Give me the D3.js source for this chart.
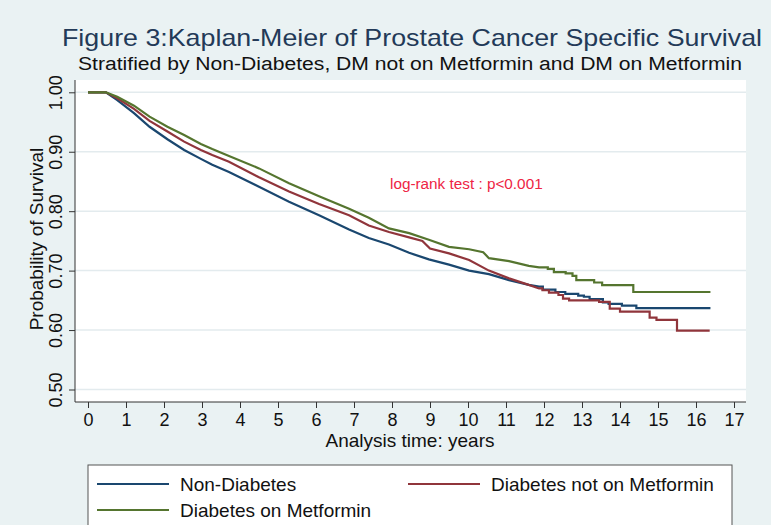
<!DOCTYPE html>
<html>
<head>
<meta charset="utf-8">
<script src="https://cdn.jsdelivr.net/npm/d3@7"></script>
<style>
  html, body { margin: 0; padding: 0; background: #eaf2f3; }
  svg { display: block; font-family: "Liberation Sans", Arial, sans-serif; }
</style>
</head>
<body>
<svg id="chart" width="771" height="525"></svg>
<script>
// Kaplan-Meier survival estimates by group.
// "early" = readings along the dense part of each curve (drawn as a polyline),
// "tail"  = individual step events [time, survival after the step].
const nonDiabetesEarly = [
  [0, 1], [0.47, 1], [0.77, 0.987], [1.21, 0.965], [1.62, 0.942], [2.09, 0.921],
  [2.53, 0.903], [2.97, 0.888], [3.27, 0.878], [3.71, 0.866], [4.5, 0.841],
  [5.29, 0.816], [6.08, 0.793], [6.87, 0.769], [7.39, 0.755], [7.92, 0.744],
  [8.45, 0.730], [8.97, 0.719], [9.5, 0.710], [10.03, 0.700], [10.55, 0.694],
  [11.08, 0.684], [11.6, 0.676], [11.87, 0.673]
];
const nonDiabetesTail = [
  [11.97, 0.668], [12.3, 0.664], [12.56, 0.661], [12.9, 0.658], [13.05, 0.656],
  [13.2, 0.652], [13.55, 0.6465], [13.7, 0.644], [14.05, 0.641], [14.43, 0.637],
  [16.38, 0.637]
];

const dmNoMetEarly = [
  [0, 1], [0.47, 1], [0.77, 0.990], [1.21, 0.972], [1.62, 0.952], [2.09, 0.934],
  [2.53, 0.917], [2.97, 0.903], [3.27, 0.8945], [3.71, 0.883], [4.5, 0.857],
  [5.29, 0.833], [6.08, 0.812], [6.87, 0.793], [7.39, 0.776], [7.92, 0.765],
  [8.45, 0.756], [8.8, 0.750], [9.0, 0.737], [9.5, 0.729], [10.03, 0.718],
  [10.55, 0.700], [11.08, 0.687], [11.6, 0.676], [11.87, 0.670]
];
const dmNoMetTail = [
  [11.96, 0.667], [12.13, 0.663], [12.38, 0.659], [12.5, 0.653], [12.66, 0.650],
  [13.45, 0.6475], [13.73, 0.636], [14.0, 0.631], [14.78, 0.621], [14.96, 0.617],
  [15.5, 0.599], [16.36, 0.599]
];

const dmMetEarly = [
  [0, 1], [0.47, 1], [0.77, 0.9926], [1.21, 0.9775], [1.62, 0.959], [2.09, 0.942],
  [2.53, 0.928], [2.97, 0.913], [3.27, 0.9045], [3.71, 0.893], [4.5, 0.872],
  [5.29, 0.847], [6.08, 0.825], [6.87, 0.804], [7.39, 0.789], [7.92, 0.771],
  [8.45, 0.763], [8.97, 0.752], [9.5, 0.740], [10.03, 0.736], [10.4, 0.731],
  [10.55, 0.721], [11.08, 0.716], [11.6, 0.708], [11.87, 0.7055]
];
const dmMetTail = [
  [12.1, 0.703], [12.26, 0.6975], [12.57, 0.6953], [12.75, 0.691], [12.85, 0.684],
  [13.32, 0.680], [13.53, 0.6756], [14.35, 0.664], [16.38, 0.664]
];

const groups = ["Non-Diabetes", "Diabetes not on Metformin", "Diabetes on Metformin"];
const groupColors = ["#1a476f", "#90353b", "#55752f"];
const xTicks = d3.range(0, 18);
const yTicks = [0.5, 0.6, 0.7, 0.8, 0.9, 1.0];
const yTickLabels = ["0.50", "0.60", "0.70", "0.80", "0.90", "1.00"];

const titleText = "Figure 3:Kaplan-Meier of Prostate Cancer Specific Survival";
const subtitleText = "Stratified by Non-Diabetes, DM not on Metformin and DM on Metformin";
const noteText = "log-rank test : p<0.001";

const svg = d3.select("#chart");
const W = 771, H = 525;
const plot = { left: 75, right: 746, top: 80, bottom: 402 };
const FONT = "Liberation Sans, Arial, sans-serif";

const x = d3.scaleLinear().domain([0, 17]).range([88, 734]);
const y = d3.scaleLinear().domain([0.5, 1.0]).range([389.5, 92.3]);

// background and plot region
svg.append("rect").attr("width", W).attr("height", H).attr("fill", "#eaf2f3");
svg.append("rect")
  .attr("x", plot.left).attr("y", plot.top)
  .attr("width", plot.right - plot.left).attr("height", plot.bottom - plot.top)
  .attr("fill", "#ffffff");

// horizontal grid
svg.append("g").selectAll("line").data(yTicks).join("line")
  .attr("x1", plot.left).attr("x2", plot.right)
  .attr("y1", d => y(d)).attr("y2", d => y(d))
  .attr("stroke", "#e3ebee").attr("stroke-width", 1.5);

// titles
svg.append("text").attr("x", 412).attr("y", 46)
  .attr("text-anchor", "middle").attr("font-size", 24).attr("fill", "#233a58")
  .attr("textLength", 700).attr("lengthAdjust", "spacingAndGlyphs")
  .text(titleText);
svg.append("text").attr("x", 410).attr("y", 70)
  .attr("text-anchor", "middle").attr("font-size", 18).attr("fill", "#111")
  .attr("textLength", 664).attr("lengthAdjust", "spacingAndGlyphs")
  .text(subtitleText);

// y axis
const yAxis = d3.axisLeft(y).tickValues(yTicks)
  .tickFormat((d, i) => yTickLabels[i]).tickSize(6).tickPadding(4);
const gy = svg.append("g").attr("transform", `translate(${plot.left},0)`).call(yAxis);
gy.select(".domain").attr("d", `M0,${plot.top}V${plot.bottom}`).attr("stroke", "#333");
gy.selectAll(".tick line").attr("stroke", "#333");
gy.selectAll(".tick text")
  .attr("font-size", 18).attr("fill", "#111").attr("font-family", FONT)
  .attr("text-anchor", "middle")
  .attr("transform", "translate(-19,0) rotate(-90)")
  .attr("x", 0).attr("dy", "0.36em");

// x axis
const xAxis = d3.axisBottom(x).tickValues(xTicks).tickSize(6).tickPadding(5);
const gx = svg.append("g").attr("transform", `translate(0,${plot.bottom})`).call(xAxis);
gx.select(".domain").attr("d", `M${plot.left},0H${plot.right}`).attr("stroke", "#333");
gx.selectAll(".tick line").attr("stroke", "#333");
gx.selectAll(".tick text").attr("font-size", 18).attr("fill", "#111").attr("font-family", FONT);

// axis titles
svg.append("text").attr("x", 410).attr("y", 447)
  .attr("text-anchor", "middle").attr("font-size", 19).attr("fill", "#111")
  .text("Analysis time: years");
svg.append("text")
  .attr("transform", "translate(43,239) rotate(-90)")
  .attr("text-anchor", "middle").attr("font-size", 19).attr("fill", "#111")
  .text("Probability of Survival");

// survival curves: polyline through the dense part, then explicit steps
function buildPath(early, tail) {
  const pts = early.slice();
  let prev = pts[pts.length - 1][1];
  tail.forEach(([t, s]) => { pts.push([t, prev]); pts.push([t, s]); prev = s; });
  return pts;
}
const curves = [
  buildPath(nonDiabetesEarly, nonDiabetesTail),
  buildPath(dmNoMetEarly, dmNoMetTail),
  buildPath(dmMetEarly, dmMetTail)
];
const line = d3.line().x(d => x(d[0])).y(d => y(d[1]));
svg.append("g").selectAll("path").data(curves).join("path")
  .attr("d", line)
  .attr("fill", "none")
  .attr("stroke", (d, i) => groupColors[i])
  .attr("stroke-width", 2.2)
  .attr("stroke-linejoin", "miter");

// log-rank annotation
svg.append("text").attr("x", 390).attr("y", 189)
  .attr("font-size", 15.3).attr("fill", "#ee2444")
  .text(noteText);

// legend
const lg = svg.append("g");
lg.append("rect").attr("x", 88).attr("y", 465).attr("width", 644).attr("height", 80)
  .attr("fill", "#fff").attr("stroke", "#555").attr("stroke-width", 1);
const legendPos = [[97, 484], [408, 484], [97, 510]];
groups.forEach((g, i) => {
  const [lx, ly] = legendPos[i];
  lg.append("line").attr("x1", lx).attr("x2", lx + 72).attr("y1", ly).attr("y2", ly)
    .attr("stroke", groupColors[i]).attr("stroke-width", 2);
  lg.append("text").attr("x", lx + 83).attr("y", ly).attr("dy", "0.35em")
    .attr("font-size", 19).attr("fill", "#111").text(g);
});
</script>
</body>
</html>
